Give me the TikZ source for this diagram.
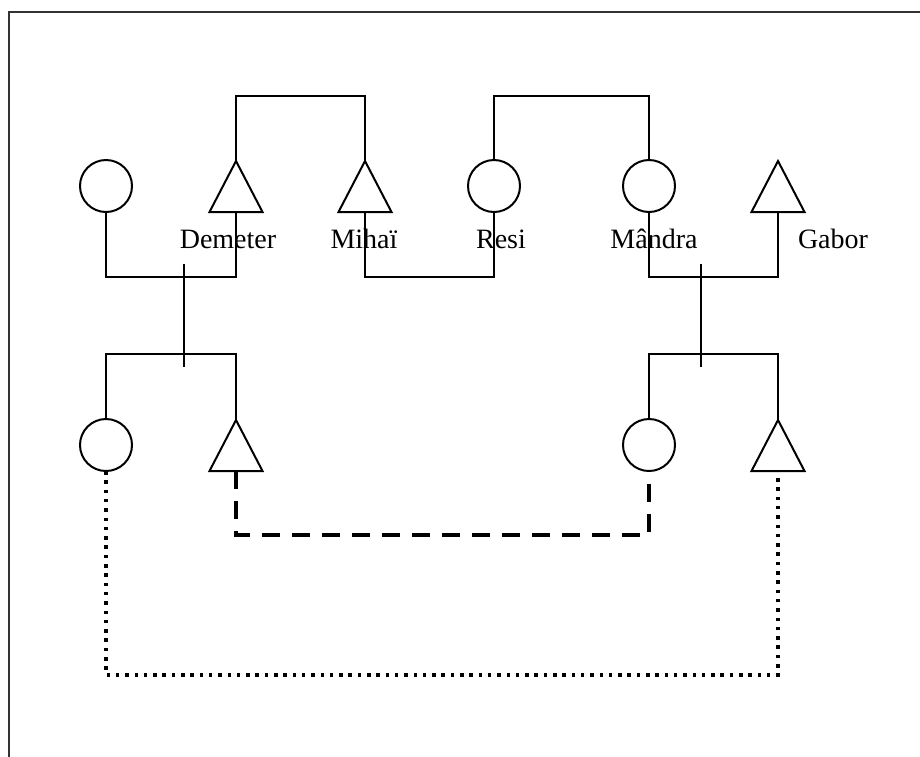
\documentclass[tikz,border=0pt]{standalone}
\usepackage{fontspec}
\setmainfont{Liberation Serif}
\usetikzlibrary{shapes.geometric}
\begin{document}
\begin{tikzpicture}[x=1pt,y=-1pt,
  line width=2pt,
  female/.style={circle,draw,minimum size=52pt,inner sep=0pt,outer sep=0pt},
  male/.style={isosceles triangle,draw,shape border rotate=90,isosceles triangle stretches,
     minimum width=53pt,minimum height=51pt,inner sep=0pt,outer sep=0pt,anchor=lower side},
  lbl/.style={anchor=base,inner sep=0pt,font=\fontsize{28}{32}\selectfont},
  dashline/.style={line width=4pt,dash pattern=on 18pt off 12pt},
  dotline/.style={line width=3.5pt,dash pattern=on 3.5pt off 5.8pt},
  frameline/.style={line width=2.5pt,draw=black!80}]
\useasboundingbox (0,0) rectangle (920,756);
\draw[frameline] (9,760) -- (9,12) -- (925,12);

% top generation
\node[female] (p1) at (106,186) {};
\node[male] (dem) at (236,212) {};
\node[male] (mih) at (365,212) {};
\node[female] (resi) at (494,186) {};
\node[female] (man) at (649,186) {};
\node[male] (gab) at (778,212) {};

\node[lbl] (ldem) at (228,248) {Demeter};
\node[lbl] (lmih) at (364,248) {Mihaï};
\node[lbl] (lres) at (501,248) {Resi};
\node[lbl] (lman) at (654,248) {Mândra};
\node[lbl] (lgab) at (833,248) {Gabor};

% bottom generation
\node[female] (c1) at (106,445) {};
\node[male] (s1) at (236,471) {};
\node[female] (c2) at (649,445) {};
\node[male] (s2) at (778,471) {};

\coordinate (topline) at (0,96);
\coordinate (marline) at (0,277);
\coordinate (sibline) at (0,354);
\coordinate (dashy) at (0,535);
\coordinate (doty) at (0,675);
\coordinate (d1a) at (184,264);
\coordinate (d1b) at (184,367);
\coordinate (d2a) at (701,264);
\coordinate (d2b) at (701,367);

% sibling lines on top
\draw (dem.apex) -- (dem.apex |- topline) -| (mih.apex);
\draw (resi.north) -- (resi.north |- topline) -| (man.north);
% marriages
\draw (p1.south) -- (p1.south |- marline) -| (dem.lower side);
\draw (mih.lower side) -- (mih.lower side |- marline) -| (resi.south);
\draw (man.south) -- (man.south |- marline) -| (gab.lower side);
% descent
\draw (d1a) -- (d1b);
\draw (d2a) -- (d2b);
% sibling bars
\draw (c1.north) -- (c1.north |- sibline) -| (s1.apex);
\draw (c2.north) -- (c2.north |- sibline) -| (s2.apex);
% bottom links
\draw[dashline] (s1.lower side) -- (s1.lower side |- dashy) -| (c2.south);
\draw[dotline] (c1.south) -- (c1.south |- doty) -| (s2.lower side);
\end{tikzpicture}
\end{document}
